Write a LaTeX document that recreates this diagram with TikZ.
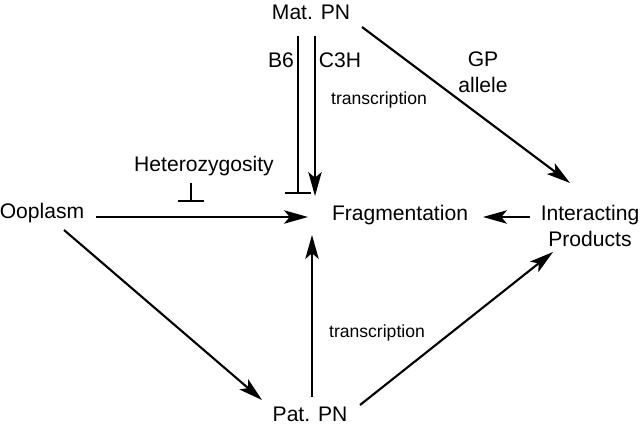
\documentclass[tikz,border=0pt]{standalone}
\usepackage{fontspec}
\setmainfont{Liberation Sans}
\usepackage{tikz}
\usetikzlibrary{positioning}
\usetikzlibrary{calc}
\usetikzlibrary{arrows.meta}
\tikzset{
  lbl/.style={inner sep=0pt, font=\fontsize{15}{18.5}\selectfont},
  smalllbl/.style={inner sep=0pt, font=\fontsize{12.5}{14}\selectfont},
  arr/.style={line width=1.5pt, -{Stealth[length=17pt, width=9.5pt, inset=4pt]}},
  inhib/.style={line width=1.5pt, -{Bar[width=18pt, line width=1.5pt]}}
}

\begin{document}
\begin{tikzpicture}[x=0.025cm, y=-0.025cm]

\useasboundingbox (0,0) rectangle (640,432);

% ================= Nodes =================
\node[lbl] (mat) at (311,12) {Mat. PN};
\node[lbl] (frag) at (400,215) {Fragmentation};
\node[lbl] (oop) at (42,213) {Ooplasm};
\node[lbl] (pat) at (310,414) {Pat. PN};
\node[lbl, align=center] (inter) at (590,226) {Interacting\\Products};

% ================= Labels =================
\node[lbl] (het) at (204,166) {Heterozygosity};
\node[lbl] (b6) at (281,60) {B6};
\node[lbl] (c3h) at (340,60) {C3H};
\node[lbl, align=center] (gp) at (483,72) {GP\\allele};
\node[smalllbl] (trmat) at (379,100) {transcription};
\node[smalllbl] (trpat) at (377,333) {transcription};

% ================= Maternal side =================
\draw[inhib] ($(mat)+(-13,24)$) -- ($(frag)+(-102,-21)$);
\draw[arr] ($(mat)+(4,24)$) -- ($(frag)+(-85,-19)$);
\draw[arr] ($(mat)+(51,15)$) -- ($(inter)+(-20,-43)$);

% Heterozygosity block
\draw[inhib] ($(het)+(-13,17)$) -- ($(het)+(-13,36)$);

% ================= Ooplasm =================
\draw[arr] ($(oop)+(54,4)$) -- ($(frag)+(-92,2)$);
\draw[arr] ($(oop)+(22,17)$) -- ($(pat)+(-48,-14)$);

% ================= Products / paternal side =================
\draw[arr] ($(inter)+(-60,-9)$) -- ($(frag)+(83,2)$);
\draw[arr] ($(pat)+(2,-17)$) -- ($(frag)+(-88,20)$);
\draw[arr] ($(pat)+(50,-9)$) -- ($(inter)+(-37,26)$);

\end{tikzpicture}
\end{document}
